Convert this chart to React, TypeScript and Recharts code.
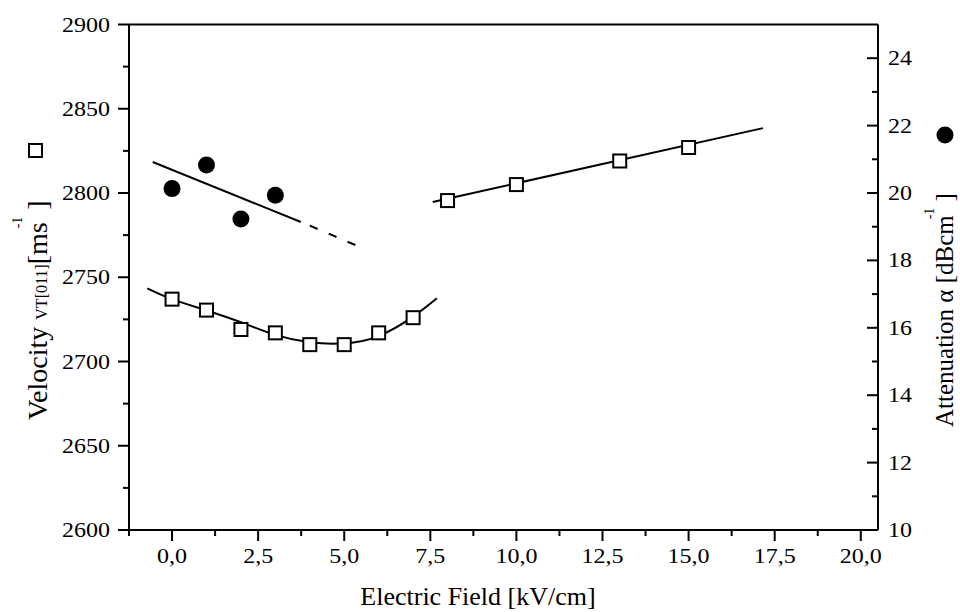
import {
  ComposedChart, Scatter, Line, XAxis, YAxis, ReferenceLine,
} from 'recharts';

// Values.
const FIELD_LOW = [0, 1, 2, 3, 4, 5, 6, 7];
const VEL_LOW = [2737, 2730.5, 2719, 2717, 2710, 2710, 2717, 2726];
const FIELD_HIGH = [8, 10, 13, 15];
const VEL_HIGH = [2795.5, 2805, 2819, 2827];
const FIELD_ATT = [0, 1, 2, 3];
const ATT = [20.13, 20.83, 19.23, 19.93];

// Fitted curves.
const FIT_LOW_X = [-0.72, 0, 1, 2, 3, 4, 5, 6, 7, 7.69];
const FIT_LOW_V = [2743.4, 2737, 2730.3, 2723.3, 2715.8, 2711.4, 2710.8, 2715.1, 2726.6, 2737.5];
const FIT_HIGH_X = [7.57, 17.16];
const FIT_HIGH_V = [2794.7, 2838.5];
const FIT_ATT_X = [-0.56, 3.74];
const FIT_ATT_V = [20.92, 19.14];
const FIT_ATT_DASH_X = [4.0, 5.36];
const FIT_ATT_DASH_V = [19.03, 18.44];

// Axis ticks
const X_MAJOR = [0, 2.5, 5, 7.5, 10, 12.5, 15, 17.5, 20];
const X_MINOR = [-1.25, 1.25, 3.75, 6.25, 8.75, 11.25, 13.75, 16.25, 18.75];
const VL_MAJOR = [2600, 2650, 2700, 2750, 2800, 2850, 2900];
const VL_MINOR = [2625, 2675, 2725, 2775, 2825, 2875];
const AT_MAJOR = [10, 12, 14, 16, 18, 20, 22, 24];
const AT_MINOR = [11, 13, 15, 17, 19, 21, 23];

const serif = '"Liberation Serif", "Times New Roman", Times, serif';
const K = '#000';

const pts = (xs: number[], ys: number[]) => xs.map((x, i) => ({ x, y: ys[i] }));

const fmtX = (v: number) => v.toFixed(1).replace('.', ',');

function XTick({ x, y, payload }: any) {
  const v = payload.value;
  const major = X_MAJOR.includes(v);
  return (
    <g>
      <line x1={x} y1={y} x2={x} y2={y + (major ? 11 : 6)} stroke={K} strokeWidth={2} />
      {major && (
        <text transform={`translate(${x},${y + 33}) scale(1.2,1)`} textAnchor="middle"
          fontFamily={serif} fontSize={20} fill={K}>{fmtX(v)}</text>
      )}
    </g>
  );
}

function LeftTick({ x, y, payload }: any) {
  const v = payload.value;
  const major = VL_MAJOR.includes(v);
  return (
    <g>
      <line x1={x - (major ? 11 : 6)} y1={y} x2={x} y2={y} stroke={K} strokeWidth={2} />
      {major && (
        <text transform={`translate(${x - 19},${y + 7}) scale(1.2,1)`} textAnchor="end"
          fontFamily={serif} fontSize={20} fill={K}>{v}</text>
      )}
    </g>
  );
}

function RightTick({ x, y, payload }: any) {
  const v = payload.value;
  const major = AT_MAJOR.includes(v);
  return (
    <g>
      <line x1={x - (major ? 11 : 6)} y1={y} x2={x} y2={y} stroke={K} strokeWidth={2} />
      {major && (
        <text transform={`translate(${x + 10},${y + 7}) scale(1.2,1)`} textAnchor="start"
          fontFamily={serif} fontSize={20} fill={K}>{v}</text>
      )}
    </g>
  );
}

const Square = ({ cx, cy }: any) => (
  <rect x={cx - 6.5} y={cy - 6.5} width={13} height={13} fill="#fff" stroke={K} strokeWidth={2} />
);
const Dot = ({ cx, cy }: any) => <circle cx={cx} cy={cy} r={8.5} fill={K} />;

const LeftLabel = () => (
  <g>
    <rect x={29} y={144} width={13} height={13} fill="#fff" stroke={K} strokeWidth={2} />
    <text transform="translate(47,420) rotate(-90)" fontFamily={serif} fontSize={28} fill={K}>
      Velocity <tspan fontSize={16}>VT[011]</tspan>
      <tspan>[ms</tspan>
      <tspan fontSize={14} dx={-6} dy={-25}>-1</tspan>
      <tspan dy={25}> ]</tspan>
    </text>
  </g>
);

const RightLabel = () => (
  <g>
    <circle cx={945} cy={135} r={8.5} fill={K} />
    <text transform="translate(953,427) rotate(-90)" fontFamily={serif} fontSize={25} fill={K}>
      Attenuation α [dBcm
      <tspan fontSize={14} dx={-4} dy={-19}>-1</tspan>
      <tspan dy={19}> ]</tspan>
    </text>
  </g>
);

const XLabel = () => (
  <text x={478} y={605} textAnchor="middle" fontFamily={serif} fontSize={26} fill={K}>
    Electric Field [kV/cm]
  </text>
);

export default function App() {
  return (
    <div style={{ position: 'absolute', left: 0, top: 0, width: 960, height: 612, background: '#fff' }}>
      <ComposedChart width={960} height={612} margin={{ top: 24.5, right: 0, bottom: 0, left: 0 }}>
        <XAxis dataKey="x" type="number" domain={[-1.25, 20.5]} allowDataOverflow
          ticks={[...X_MAJOR, ...X_MINOR]} interval={0} height={82}
          axisLine={{ stroke: K, strokeWidth: 2 }} tickLine={false} tickSize={0} tickMargin={0}
          tick={<XTick />} label={{ content: () => <XLabel /> }} />
        <YAxis yAxisId="left" dataKey="y" type="number" domain={[2600, 2900]} allowDataOverflow
          ticks={[...VL_MAJOR, ...VL_MINOR]} interval={0} width={129}
          axisLine={{ stroke: K, strokeWidth: 2 }} tickLine={false} tickSize={0} tickMargin={0}
          tick={<LeftTick />} label={{ content: () => <LeftLabel /> }} />
        <YAxis yAxisId="right" orientation="right" dataKey="y" type="number" domain={[10, 25]}
          allowDataOverflow ticks={[...AT_MAJOR, ...AT_MINOR]} interval={0} width={82}
          axisLine={{ stroke: K, strokeWidth: 2 }} tickLine={false} tickSize={0} tickMargin={0}
          tick={<RightTick />} label={{ content: () => <RightLabel /> }} />
        <ReferenceLine yAxisId="left" y={2900} stroke={K} strokeWidth={2} ifOverflow="visible" />

        <Line yAxisId="left" data={pts(FIT_LOW_X, FIT_LOW_V)} dataKey="y" type="natural"
          stroke={K} strokeWidth={2} dot={false} isAnimationActive={false} />
        <Line yAxisId="left" data={pts(FIT_HIGH_X, FIT_HIGH_V)} dataKey="y" type="linear"
          stroke={K} strokeWidth={2} dot={false} isAnimationActive={false} />
        <Line yAxisId="right" data={pts(FIT_ATT_X, FIT_ATT_V)} dataKey="y" type="linear"
          stroke={K} strokeWidth={2} dot={false} isAnimationActive={false} />
        <Line yAxisId="right" data={pts(FIT_ATT_DASH_X, FIT_ATT_DASH_V)} dataKey="y" type="linear"
          stroke={K} strokeWidth={2} strokeDasharray="8.5 12" dot={false} isAnimationActive={false} />

        <Scatter yAxisId="left" data={pts(FIELD_LOW, VEL_LOW)} dataKey="y" shape={<Square />}
          isAnimationActive={false} />
        <Scatter yAxisId="left" data={pts(FIELD_HIGH, VEL_HIGH)} dataKey="y" shape={<Square />}
          isAnimationActive={false} />
        <Scatter yAxisId="right" data={pts(FIELD_ATT, ATT)} dataKey="y" shape={<Dot />}
          isAnimationActive={false} />
      </ComposedChart>
    </div>
  );
}
